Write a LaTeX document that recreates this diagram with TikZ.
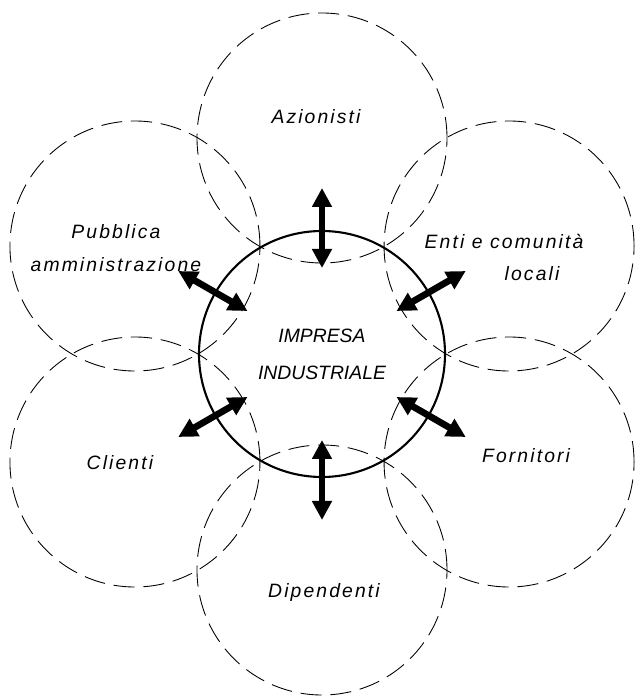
\documentclass[tikz,border=0pt]{standalone}
\usepackage{fontspec}
\setmainfont{Liberation Sans}
\newfontfamily\letterfont[LetterSpace=11]{Liberation Sans}
\usetikzlibrary{arrows.meta,calc,positioning}

\begin{document}
\begin{tikzpicture}[>=Stealth, font=\fontsize{11}{21}\selectfont\itshape,
  ring/.style={draw, circle, dash pattern=on 12pt off 5pt, line width=0.5pt,
    minimum size=5cm, inner sep=0pt},
  core/.style={draw, circle, line width=1.2pt, minimum size=4.92cm,
    inner sep=0pt, align=center},
  tag/.style={font=\letterfont\fontsize{11}{18.5}\selectfont\itshape, align=center},
  link/.style={{Triangle[length=3.8mm,width=3.8mm]}-{Triangle[length=3.8mm,width=3.8mm]},
    line width=3.8pt}]

\useasboundingbox (0,0) rectangle (12.74,13.96);

% ---- Stakeholder rings (dashed) ----
\node[ring] (azionisti)  at ($(6.44,6.88)+(90:4.32)$)  {};
\node[ring] (pubblica)   at ($(6.44,6.88)+(150:4.32)$) {};
\node[ring] (enti)       at ($(6.44,6.88)+(30:4.32)$)  {};
\node[ring] (clienti)    at ($(6.44,6.88)+(210:4.32)$) {};
\node[ring] (fornitori)  at ($(6.44,6.88)+(330:4.32)$) {};
\node[ring] (dipendenti) at ($(6.44,6.88)+(270:4.32)$) {};

% ---- Central firm ----
\node[core] (impresa) at (6.44,6.88) {IMPRESA\\INDUSTRIALE};

% ---- Ring labels ----
\node[tag] (azionistiT)  at ($(azionisti)+(-0.12,0.42)$)  {Azionisti};
\node[tag] (pubblicaT)   at ($(pubblica)+(-0.38,-0.04)$)  {Pubblica\\amministrazione};
\node[tag, align=left] (entiT) at ($(enti)+(-0.1,-0.23)$)
  {Enti e comunità\\\hspace*{1.6cm}locali};
\node[tag] (clientiT)    at ($(clienti)+(-0.3,-0.02)$)    {Clienti};
\node[tag] (fornitoriT)  at ($(fornitori)+(0.34,0.12)$)   {Fornitori};
\node[tag] (dipendentiT) at ($(dipendenti)+(0.04,-0.46)$) {Dipendenti};

% ---- Two-way relations ----
\foreach \ang in {30,90,...,330} {
  \coordinate (in\ang)  at ($(impresa)+(\ang:1.72)$);
  \coordinate (out\ang) at ($(impresa)+(\ang:3.32)$);
  \draw[link] (in\ang) -- (out\ang);
}

\end{tikzpicture}
\end{document}
